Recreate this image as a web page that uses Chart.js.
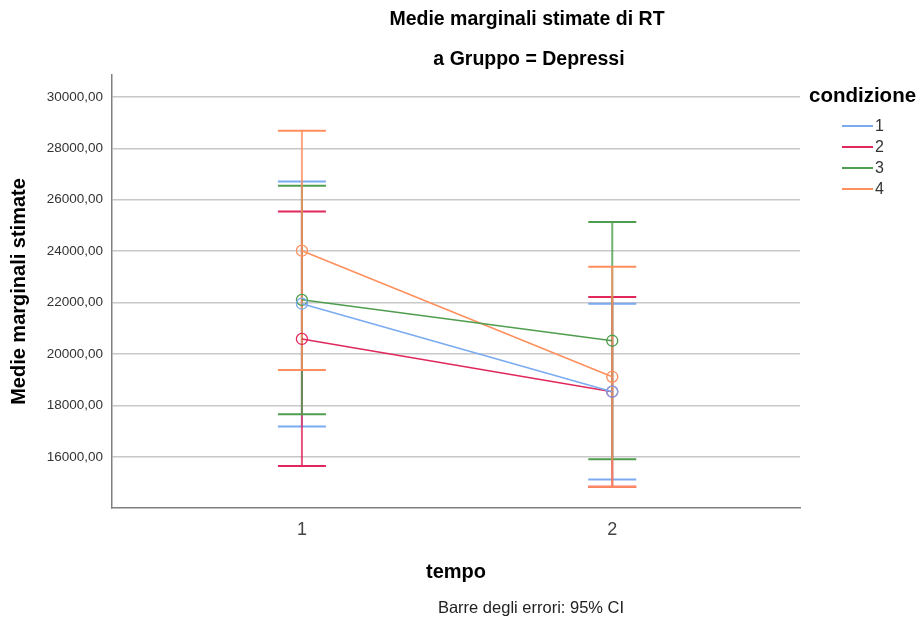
<!DOCTYPE html>
<html>
<head>
<meta charset="utf-8">
<script src="https://cdn.jsdelivr.net/npm/chart.js@4.4.1/dist/chart.umd.min.js"></script>
<style>
  html, body { margin: 0; padding: 0; background: #fff; }
  #wrap { width: 922px; height: 622px; }
</style>
</head>
<body>
<div id="wrap"><canvas id="rtChart"></canvas></div>
<script>
// tempo levels and condizione groups
const tempo = [1, 2];
const condizioni = ['1', '2', '3', '4'];
const yTicks = [16000, 18000, 20000, 22000, 24000, 26000, 28000, 30000];

// estimated marginal means per condizione (tempo 1, tempo 2)
const mean1 = [21960, 18540];
const mean2 = [20590, 18540];
const mean3 = [22110, 20520];
const mean4 = [24020, 19120];

// 95% CI bounds
const lower1 = [17190, 15130];
const upper1 = [26710, 21960];
const lower2 = [15650, 14850];
const upper2 = [25540, 22220];
const lower3 = [17660, 15910];
const upper3 = [26550, 25140];
const lower4 = [19380, 14850];
const upper4 = [28680, 23400];

const colors = ['#7aaaf0', '#e0285c', '#4f9d4f', '#ff8f5c'];
const means = [mean1, mean2, mean3, mean4];
const lowers = [lower1, lower2, lower3, lower4];
const uppers = [upper1, upper2, upper3, upper4];

const FONT = '"Liberation Sans", Arial, sans-serif';

// CI whiskers drawn under the lines
const errorBars = {
  id: 'errorBars',
  beforeDatasetsDraw(chart) {
    const { ctx, scales: { x, y } } = chart;
    ctx.save();
    chart.data.datasets.forEach((ds, i) => {
      ctx.strokeStyle = ds.borderColor;
      ctx.lineWidth = 2;
      tempo.forEach((t, j) => {
        const px = x.getPixelForValue(t);
        const top = y.getPixelForValue(uppers[i][j]);
        const bot = y.getPixelForValue(lowers[i][j]);
        ctx.globalAlpha = 0.8;
        ctx.beginPath();
        ctx.moveTo(px, top);
        ctx.lineTo(px, bot);
        ctx.stroke();
        ctx.globalAlpha = 1;
        ctx.beginPath();
        ctx.moveTo(px - 24, top);
        ctx.lineTo(px + 24, top);
        ctx.moveTo(px - 24, bot);
        ctx.lineTo(px + 24, bot);
        ctx.stroke();
      });
    });
    ctx.restore();
  }
};

// titles, footnote and the condizione legend
const annotations = {
  id: 'annotations',
  afterDraw(chart) {
    const { ctx } = chart;
    ctx.save();
    ctx.fillStyle = '#000';
    ctx.textAlign = 'center';
    ctx.textBaseline = 'middle';
    ctx.font = 'bold 19.5px ' + FONT;
    ctx.fillText('Medie marginali stimate di RT', 527, 20);
    ctx.fillText('a Gruppo = Depressi', 529, 60);

    ctx.fillStyle = '#222';
    ctx.font = '16.5px ' + FONT;
    ctx.fillText('Barre degli errori: 95% CI', 531, 608);

    ctx.textAlign = 'left';
    ctx.fillStyle = '#000';
    ctx.font = 'bold 20.5px ' + FONT;
    ctx.fillText('condizione', 809, 96);

    ctx.font = '16px ' + FONT;
    chart.data.datasets.forEach((ds, i) => {
      const ly = 126 + i * 21;
      ctx.strokeStyle = ds.borderColor;
      ctx.lineWidth = 2;
      ctx.beginPath();
      ctx.moveTo(842, ly);
      ctx.lineTo(873, ly);
      ctx.stroke();
      ctx.fillStyle = '#333';
      ctx.fillText(ds.label, 875, ly + 1);
    });
    ctx.restore();
  }
};

const datasets = condizioni.map((c, i) => ({
  label: c,
  data: tempo.map((t, j) => ({ x: t, y: means[i][j] })),
  borderColor: colors[i],
  backgroundColor: 'rgba(0,0,0,0)',
  pointBackgroundColor: 'rgba(0,0,0,0)',
  pointBorderColor: colors[i],
  pointBorderWidth: 1.3,
  pointRadius: 5.5,
  borderWidth: 1.5,
  tension: 0
}));

new Chart(document.getElementById('rtChart'), {
  type: 'line',
  data: { datasets },
  plugins: [errorBars, annotations],
  options: {
    responsive: true,
    maintainAspectRatio: false,
    animation: false,
    layout: { padding: { top: 75, right: 122, left: 0, bottom: 0 } },
    plugins: {
      legend: { display: false },
      tooltip: { enabled: false }
    },
    scales: {
      x: {
        type: 'linear',
        min: 0.388,
        max: 2.605,
        afterBuildTicks: (scale) => { scale.ticks = tempo.map(v => ({ value: v })); },
        afterFit: (scale) => { scale.height = 114; },
        grid: { display: false, drawTicks: false },
        border: { display: true, color: '#808080', width: 1.5 },
        ticks: {
          padding: 11,
          color: '#444',
          font: { family: FONT, size: 18 },
          callback: (v) => String(v)
        },
        title: {
          display: true,
          text: 'tempo',
          color: '#000',
          font: { family: FONT, size: 20, weight: 'bold' },
          padding: { bottom: 38 }
        }
      },
      y: {
        min: 14020,
        max: 30850,
        afterBuildTicks: (scale) => { scale.ticks = yTicks.map(v => ({ value: v })); },
        afterFit: (scale) => { scale.width = 112; },
        grid: { color: '#c8c8c8', lineWidth: 1.5, drawTicks: false },
        border: { display: true, color: '#808080', width: 1.5 },
        ticks: {
          padding: 9,
          color: '#333',
          font: { family: FONT, size: 13.5 },
          callback: (v) => v.toFixed(2).replace('.', ',')
        },
        title: {
          display: true,
          text: 'Medie marginali stimate',
          color: '#000',
          font: { family: FONT, size: 20, weight: 'bold' },
          padding: { top: 7 }
        }
      }
    }
  }
});
</script>
</body>
</html>
